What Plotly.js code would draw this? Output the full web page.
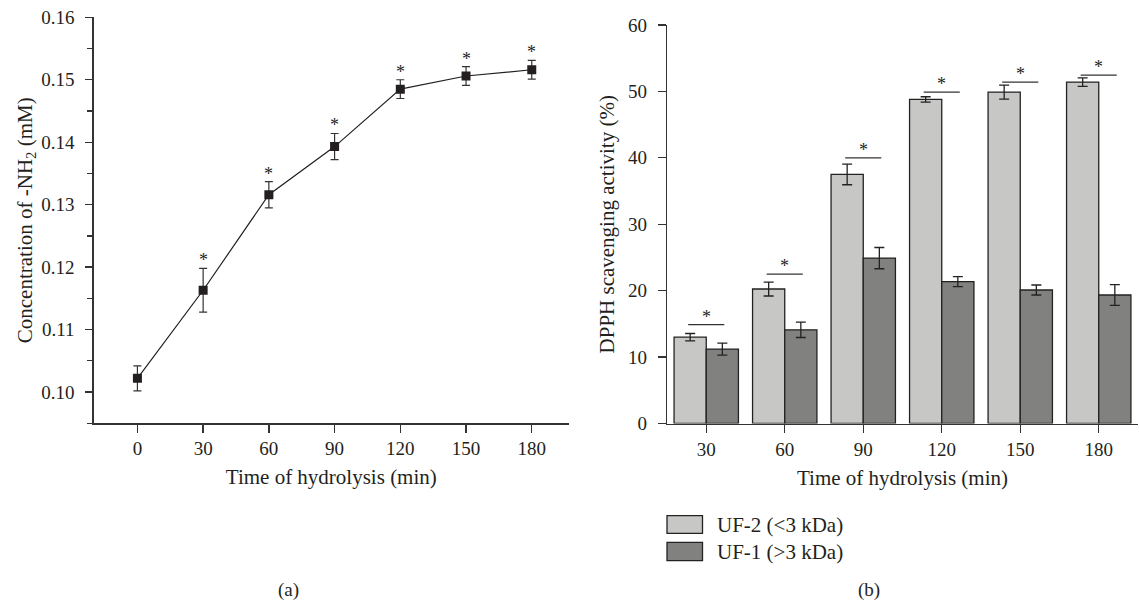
<!DOCTYPE html>
<html>
<head>
<meta charset="utf-8">
<script src="https://cdn.plot.ly/plotly-3.0.1.min.js"></script>
<style>html,body{margin:0;padding:0;background:#fff;}#chart{width:1139px;height:601px;}</style>
</head>
<body>
<div id="chart"></div>
<script>
// ---- Panel (a) data ----
const timesA = [0, 30, 60, 90, 120, 150, 180];
const nh2Mean = [0.1022, 0.1163, 0.1316, 0.1393, 0.1485, 0.1506, 0.1516];
const nh2Err = [0.0020, 0.0035, 0.0021, 0.0021, 0.0015, 0.0015, 0.0015];
const yTicksA = [0.10, 0.11, 0.12, 0.13, 0.14, 0.15, 0.16];
const yTickTextA = ['0.10', '0.11', '0.12', '0.13', '0.14', '0.15', '0.16'];

// ---- Panel (b) data ----
const timesB = ['30', '60', '90', '120', '150', '180'];
const uf2Mean = [13.0, 20.25, 37.5, 48.8, 49.9, 51.4];
const uf2Err = [0.55, 1.05, 1.55, 0.4, 1.05, 0.65];
const uf1Mean = [11.2, 14.1, 24.9, 21.35, 20.1, 19.35];
const uf1Err = [0.9, 1.15, 1.6, 0.75, 0.75, 1.55];
const sigLineB = [14.9, 22.5, 40.0, 49.9, 51.4, 52.45];
const seriesNames = ['UF-2 (&lt;3 kDa)', 'UF-1 (&gt;3 kDa)'];

const FONT = '"Liberation Serif", "Times New Roman", serif';
const INK = '#231f20';
const LIGHT = '#c7c7c5';
const DARK = '#818280';
const W = 1139, H = 601;
const px = v => v / W;
const py = v => (H - v) / H;

const traces = [
  {
    x: timesA, y: nh2Mean, type: 'scatter', mode: 'lines+markers',
    xaxis: 'x', yaxis: 'y', showlegend: false,
    line: {color: INK, width: 1.2},
    marker: {symbol: 'square', size: 9, color: INK},
    error_y: {type: 'data', array: nh2Err, visible: true, color: '#333', thickness: 1.2, width: 4}
  },
  {
    x: timesB, y: uf2Mean, type: 'bar', name: seriesNames[0],
    xaxis: 'x2', yaxis: 'y2', showlegend: false,
    marker: {color: LIGHT, line: {color: '#222', width: 1.3}},
    error_y: {type: 'data', array: uf2Err, visible: true, color: '#222', thickness: 1.3, width: 5}
  },
  {
    x: timesB, y: uf1Mean, type: 'bar', name: seriesNames[1],
    xaxis: 'x2', yaxis: 'y2', showlegend: false,
    marker: {color: DARK, line: {color: '#222', width: 1.3}},
    error_y: {type: 'data', array: uf1Err, visible: true, color: '#222', thickness: 1.3, width: 5}
  }
];

const annotations = [];
const shapes = [];

// asterisks panel (a)
timesA.forEach((t, i) => {
  if (i === 0) return;
  annotations.push({
    x: t, y: nh2Mean[i] + nh2Err[i], xref: 'x', yref: 'y',
    text: '*', showarrow: false, yanchor: 'middle', yshift: 8,
    font: {family: FONT, size: 18, color: INK}
  });
});

// significance lines + asterisks panel (b)
timesB.forEach((t, i) => {
  shapes.push({
    type: 'line', xref: 'x2', yref: 'y2',
    x0: i - 0.23, x1: i + 0.23, y0: sigLineB[i], y1: sigLineB[i],
    line: {color: '#333', width: 1.3}
  });
  annotations.push({
    x: i, y: sigLineB[i], xref: 'x2', yref: 'y2',
    text: '*', showarrow: false, yanchor: 'middle', yshift: 8,
    font: {family: FONT, size: 18, color: INK}
  });
});

// custom legend for panel (b)
const legendRows = [[515.7, 533.3, LIGHT], [542.3, 560.7, DARK]];
legendRows.forEach((r, i) => {
  shapes.push({
    type: 'rect', xref: 'paper', yref: 'paper',
    x0: px(667), x1: px(702.5), y0: py(r[1]), y1: py(r[0]),
    fillcolor: r[2], line: {color: '#222', width: 1.3}
  });
  annotations.push({
    x: px(715), y: py((r[0] + r[1]) / 2), xref: 'paper', yref: 'paper',
    text: seriesNames[i], showarrow: false, xanchor: 'left', yanchor: 'middle',
    font: {family: FONT, size: 21, color: INK}
  });
});

// panel labels
annotations.push({x: px(288.6), y: py(590), xref: 'paper', yref: 'paper', text: '(a)',
  showarrow: false, xanchor: 'center', yanchor: 'middle', font: {family: FONT, size: 19, color: INK}});
annotations.push({x: px(869), y: py(590), xref: 'paper', yref: 'paper', text: '(b)',
  showarrow: false, xanchor: 'center', yanchor: 'middle', font: {family: FONT, size: 19, color: INK}});

const axCommon = {
  showline: true, linecolor: '#333', linewidth: 1.3,
  ticks: 'outside', ticklen: 8, tickwidth: 1.3, tickcolor: '#333',
  showgrid: false, zeroline: false,
  tickfont: {family: FONT, size: 19, color: INK}
};

const layout = {
  width: W, height: H,
  margin: {l: 0, r: 0, t: 0, b: 0},
  paper_bgcolor: '#fff', plot_bgcolor: '#fff',
  font: {family: FONT, color: INK},
  showlegend: false,
  barmode: 'group', bargap: 0.18, bargroupgap: 0,
  xaxis: Object.assign({}, axCommon, {
    domain: [px(93.6), px(569)], range: [-20, 197],
    tickvals: timesA, ticktext: timesA.map(String),
    anchor: 'y',
    title: {text: 'Time of hydrolysis (min)', font: {family: FONT, size: 21, color: INK}, standoff: 11}
  }),
  yaxis: Object.assign({}, axCommon, {
    domain: [py(423.3), py(17.3)], range: [0.095, 0.16],
    tickvals: yTicksA, ticktext: yTickTextA, ticklen: 7, ticklabelstandoff: 7,
    minor: {dtick: 0.005, tick0: 0.095, ticklen: 5, tickwidth: 1.2, tickcolor: '#333', ticks: 'outside', showgrid: false},
    anchor: 'x',
    title: {text: 'Concentration of -NH<sub>2</sub> (mM)', font: {family: FONT, size: 21, color: INK}, standoff: 3}
  }),
  xaxis2: Object.assign({}, axCommon, {
    domain: [px(667), px(1138)], range: [-0.5, 5.5], type: 'category',
    anchor: 'y2',
    title: {text: 'Time of hydrolysis (min)', font: {family: FONT, size: 21, color: INK}, standoff: 11}
  }),
  yaxis2: Object.assign({}, axCommon, {
    domain: [py(423.5), py(25)], range: [0, 60], dtick: 10, ticklabelstandoff: 7,
    anchor: 'x2',
    title: {text: 'DPPH scavenging activity (%)', font: {family: FONT, size: 21, color: INK}, standoff: 7}
  }),
  shapes: shapes,
  annotations: annotations
};

Plotly.newPlot('chart', traces, layout, {displayModeBar: false, staticPlot: true});
</script>
</body>
</html>
